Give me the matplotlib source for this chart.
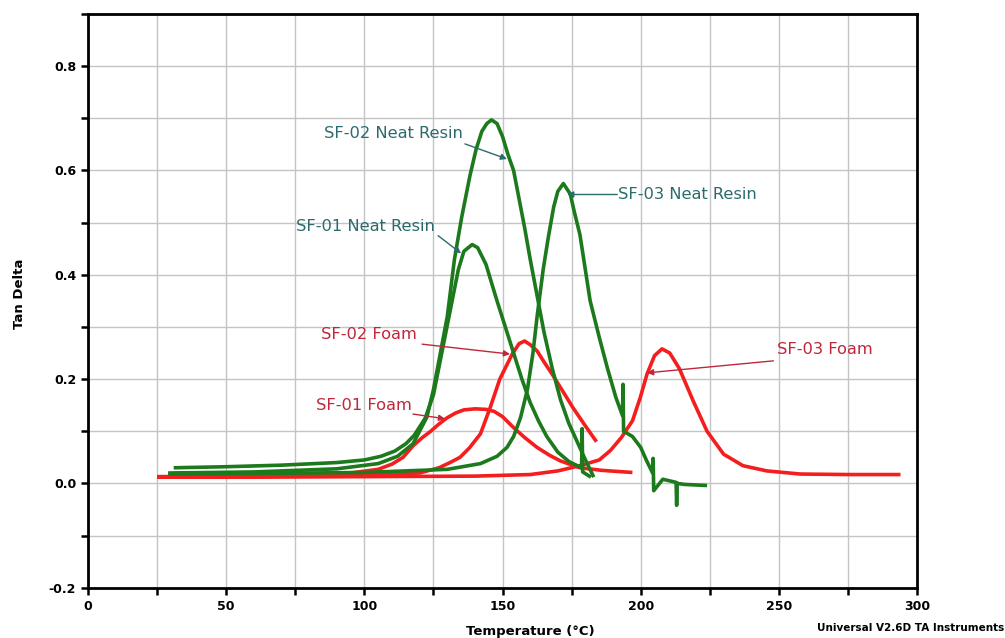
import matplotlib
matplotlib.use("Agg")
import matplotlib.pyplot as plt
from matplotlib.ticker import MultipleLocator

# Tan delta vs temperature
sf01_neat_x = [31, 50, 70, 90, 100, 106, 111, 115, 118, 122, 125, 128, 131, 134, 136, 139,
               141, 144, 148, 151, 154, 157, 160, 163, 166, 170, 174, 178.6, 178.8, 179.0, 182]
sf01_neat_y = [0.030, 0.032, 0.035, 0.040, 0.045, 0.052, 0.062, 0.076, 0.092, 0.125, 0.17,
               0.25, 0.33, 0.41, 0.445, 0.458, 0.452, 0.42, 0.35, 0.30, 0.25, 0.20, 0.155,
               0.12, 0.09, 0.06, 0.042, 0.030, 0.105, 0.022, 0.012]

sf02_neat_x = [29, 60, 90, 105, 112, 117.6, 122.6, 125, 127.5, 130, 132.6, 135.2, 138.2, 140.4,
               142.5, 144.3, 146, 148, 150, 152, 154, 156, 158, 160, 162.5, 165, 168, 171, 174,
               177, 180, 183]
sf02_neat_y = [0.020, 0.022, 0.028, 0.038, 0.052, 0.076, 0.127, 0.18, 0.25, 0.32, 0.43, 0.51,
               0.59, 0.64, 0.675, 0.69, 0.697, 0.69, 0.665, 0.63, 0.60, 0.545, 0.49, 0.43,
               0.36, 0.29, 0.22, 0.16, 0.115, 0.08, 0.045, 0.012]

sf03_neat_x = [29, 60, 100, 130, 142, 148, 151.6, 154, 156.5, 159, 161, 162.5, 164.7, 166.5,
               168.5, 170, 172, 174.5, 176, 178, 181.7, 185, 188, 191, 193.4, 193.6,
               193.8, 197, 200, 202, 204.3, 204.5, 204.7, 208, 212.8, 213.0, 213.2, 216,
               220, 224]
sf03_neat_y = [0.018, 0.019, 0.021, 0.027, 0.038, 0.052, 0.069, 0.09, 0.126, 0.18, 0.25, 0.32,
               0.41, 0.47, 0.53, 0.56, 0.575, 0.555, 0.52, 0.477, 0.35, 0.28, 0.22,
               0.165, 0.13, 0.19, 0.10, 0.09, 0.069, 0.045, 0.02, 0.048, -0.014, 0.008,
               0.002, -0.042, 0.0, -0.002, -0.003, -0.004]

sf01_foam_x = [25, 50, 80, 95, 105, 110, 114, 117.6, 121, 124, 127, 130, 133, 136, 140, 144,
               147, 150, 154, 158, 162.5, 167, 171, 178, 186, 197]
sf01_foam_y = [0.013, 0.014, 0.017, 0.020, 0.027, 0.037, 0.050, 0.072, 0.088, 0.100, 0.114,
               0.126, 0.135, 0.141, 0.143, 0.142, 0.138, 0.128, 0.107, 0.088, 0.069, 0.054,
               0.043, 0.030, 0.025, 0.021]

sf02_foam_x = [25, 60, 100, 120, 127, 131, 134.6, 138, 142, 145.5, 149, 153.5, 156, 158, 160,
               162.5, 165, 168, 172, 175.5, 180, 184]
sf02_foam_y = [0.012, 0.013, 0.016, 0.020, 0.030, 0.040, 0.050, 0.068, 0.095, 0.145, 0.20,
               0.248, 0.268, 0.273, 0.266, 0.254, 0.233, 0.209, 0.175, 0.145, 0.11, 0.08]

sf03_foam_x = [25, 60, 100, 140, 160, 170, 178, 185, 189, 193, 197, 199.8, 202.3, 205, 207.7,
               210.5, 214, 219, 224, 230, 237, 245.6, 257.7, 275, 294]
sf03_foam_y = [0.012, 0.012, 0.013, 0.014, 0.017, 0.024, 0.034, 0.045, 0.063, 0.088, 0.12,
               0.164, 0.21, 0.245, 0.258, 0.25, 0.22, 0.158, 0.10, 0.056, 0.034, 0.024, 0.018,
               0.017, 0.017]

green = '#1c7a1c'
red = '#f51e1e'
teal = '#2b6b6b'
crimson = '#c0273a'

fig = plt.figure(figsize=(10.05, 6.38), dpi=100)
ax = fig.add_axes([0.0876, 0.0788, 0.8249, 0.8992])

for xs, ys in [(sf01_foam_x, sf01_foam_y), (sf02_foam_x, sf02_foam_y), (sf03_foam_x, sf03_foam_y)]:
    ax.plot(xs, ys, color=red, lw=2.6, solid_capstyle='butt')
for xs, ys in [(sf01_neat_x, sf01_neat_y), (sf02_neat_x, sf02_neat_y), (sf03_neat_x, sf03_neat_y)]:
    ax.plot(xs, ys, color=green, lw=2.6, solid_capstyle='butt')

ax.set_xlim(0, 300)
ax.set_ylim(-0.2, 0.9)
ax.xaxis.set_major_locator(MultipleLocator(50))
ax.xaxis.set_minor_locator(MultipleLocator(25))
ax.yaxis.set_minor_locator(MultipleLocator(0.1))
ax.set_yticks([-0.2, 0.0, 0.2, 0.4, 0.6, 0.8])
ax.set_yticklabels(['-0.2', '0.0', '0.2', '0.4', '0.6', '0.8'])
ax.grid(True, which='both', color='#c4c4c4', lw=1.0)
ax.set_axisbelow(True)
for s in ax.spines.values():
    s.set_linewidth(2.0)
ax.tick_params(which='both', direction='out', length=5, width=1.8, labelsize=9)
for lab in ax.get_xticklabels() + ax.get_yticklabels():
    lab.set_fontweight('bold')

ax.set_xlabel('Temperature (°C)', fontsize=9.5, fontweight='bold')
ax.xaxis.set_label_coords(0.533, -0.077)
ax.xaxis.label.set_va('center')
ax.set_ylabel('Tan Delta', fontsize=9.5, fontweight='bold')
ax.yaxis.set_label_coords(-0.083, 0.512)
ax.yaxis.label.set_va('center')
fig.text(0.9995, 0.0157, 'Universal V2.6D TA Instruments', ha='right', va='center',
         fontsize=7.5, fontweight='bold')

# labels and their pointer arrows
fs = 11.7
ax.text(135.7, 0.670, 'SF-02 Neat Resin', ha='right', va='center', color=teal, fontsize=fs)
ax.text(125.6, 0.492, 'SF-01 Neat Resin', ha='right', va='center', color=teal, fontsize=fs)
ax.text(191.8, 0.554, 'SF-03 Neat Resin', ha='left', va='center', color=teal, fontsize=fs)
ax.text(119.0, 0.286, 'SF-02 Foam', ha='right', va='center', color=crimson, fontsize=fs)
ax.text(117.3, 0.149, 'SF-01 Foam', ha='right', va='center', color=crimson, fontsize=fs)
ax.text(249.4, 0.256, 'SF-03 Foam', ha='left', va='center', color=crimson, fontsize=fs)

arrows = [((136.4, 0.651), (151.6, 0.622), teal),
          ((126.7, 0.475), (135.0, 0.441), teal),
          ((191.5, 0.554), (173.4, 0.554), teal),
          ((120.9, 0.267), (152.7, 0.248), crimson),
          ((117.6, 0.133), (129.2, 0.124), crimson),
          ((248.0, 0.235), (202.3, 0.212), crimson)]
for start, end, c in arrows:
    ax.annotate('', xy=end, xytext=start,
                arrowprops=dict(arrowstyle='-|>', lw=1.0, mutation_scale=9, color=c,
                                shrinkA=0, shrinkB=0))

fig.savefig('out.png', dpi=100)
